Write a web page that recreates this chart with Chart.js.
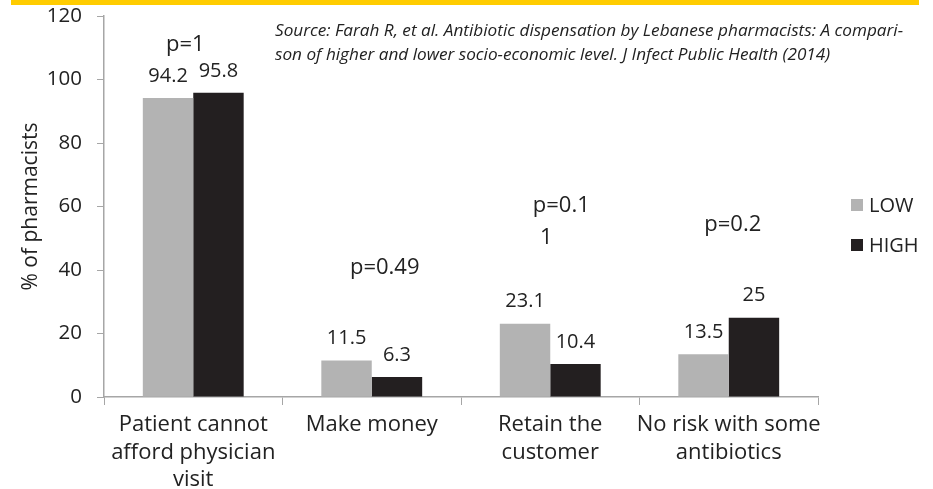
<!DOCTYPE html>
<html>
<head>
<meta charset="utf-8">
<script src="https://cdn.jsdelivr.net/npm/chart.js@4"></script>
<style>
  html, body { margin: 0; padding: 0; background: #fff; }
  #wrap { position: relative; width: 933px; height: 489px; overflow: hidden; }
  #band { position: absolute; left: 11px; top: 0; width: 908px; height: 5px; background: #ffcc00; }
  canvas { position: absolute; left: 0; top: 0; }
</style>
</head>
<body>
<div id="wrap">
  <canvas id="c" width="933" height="489"></canvas>
  <div id="band"></div>
</div>
<script>
const categories = [
  ["Patient cannot", "afford physician", "visit"],
  ["Make money"],
  ["Retain the", "customer"],
  ["No risk with some", "antibiotics"]
];
const seriesNames = ["LOW", "HIGH"];
const lowValues = [94.2, 11.5, 23.1, 13.5];
const highValues = [95.8, 6.3, 10.4, 25];
const pValues = [["p=1"], ["p=0.49"], ["p=0.1", "1"], ["p=0.2"]];
const yTicks = [0, 20, 40, 60, 80, 100, 120];
const sourceLines = [
  "Source: Farah R, et al. Antibiotic dispensation by Lebanese pharmacists: A compari-",
  "son of higher and lower socio-economic level. J Infect Public Health (2014)"
];

const FONT = "'Open Sans', 'DejaVu Sans', sans-serif";
const colors = ["#b3b3b3", "#231f20"];

const extrasPlugin = {
  id: 'extras',
  afterDatasetsDraw(chart) {
    const ctx = chart.ctx;
    const xs = chart.scales.x, ys = chart.scales.y;
    ctx.save();
    // value labels
    ctx.font = "20px " + FONT;
    ctx.fillStyle = "#222";
    ctx.textAlign = "center";
    ctx.textBaseline = "middle";
    chart.data.datasets.forEach((ds, di) => {
      const meta = chart.getDatasetMeta(di);
      meta.data.forEach((bar, i) => {
        ctx.fillText(String(ds.data[i]), bar.x, bar.y - 22);
      });
    });
    // p-values
    ctx.font = "22px " + FONT;
    const pOff = [[-8, 110.9], [13, 40.6], [11, 60.2], [4, 54.2]];
    pValues.forEach((lines, i) => {
      const cx = xs.getPixelForValue(i) + pOff[i][0];
      const cy = ys.getPixelForValue(pOff[i][1]);
      lines.forEach((t, k) => {
        let x = cx;
        if (k > 0) x = cx - 15;
        ctx.fillText(t, x, cy + k * 32);
      });
    });
    // legend
    ctx.font = "20px " + FONT;
    ctx.textAlign = "left";
    seriesNames.forEach((n, i) => {
      const y = 205 + i * 40;
      ctx.fillStyle = colors[i];
      ctx.fillRect(851, y - 6, 12, 12);
      ctx.fillStyle = "#222";
      ctx.fillText(n, 869, y + 1);
    });
    // source
    ctx.font = "italic 15.5px " + FONT;
    ctx.fillStyle = "#222";
    ctx.textAlign = "left";
    sourceLines.forEach((t, k) => {
      const w = ctx.measureText(sourceLines[0]).width;
      ctx.save();
      ctx.translate(275, 32 + k * 24);
      ctx.scale(628 / w, 1);
      ctx.fillText(t, 0, 0);
      ctx.restore();
    });
    ctx.restore();
  }
};

new Chart(document.getElementById('c'), {
  type: 'bar',
  data: {
    labels: categories,
    datasets: [
      { label: seriesNames[0], data: lowValues, backgroundColor: colors[0], categoryPercentage: 0.565, barPercentage: 1.0 },
      { label: seriesNames[1], data: highValues, backgroundColor: colors[1], categoryPercentage: 0.565, barPercentage: 1.0 }
    ]
  },
  options: {
    responsive: false,
    animation: false,
    devicePixelRatio: 1,
    layout: { padding: { left: 0, right: 115, top: 16, bottom: 0 } },
    plugins: { legend: { display: false }, tooltip: { enabled: false } },
    scales: {
      x: {
        afterFit(s) { s.height = 92; s.paddingLeft = 0; s.paddingRight = 0; },
        grid: { display: true, drawOnChartArea: false, drawTicks: true, tickLength: 8, color: "#a6a6a6", offset: true },
        border: { display: true, color: "#a6a6a6", width: 1.5 },
        ticks: { color: "#222", font: { family: FONT, size: 22, lineHeight: 1.25 }, padding: 6, maxRotation: 0, autoSkip: false }
      },
      y: {
        min: 0, max: 120,
        afterFit(s) { s.width = 104; s.paddingTop = 0; s.paddingBottom = 0; },
        afterBuildTicks(s) { s.ticks = yTicks.map(v => ({ value: v })); },
        grid: { display: true, drawOnChartArea: false, drawTicks: true, tickLength: 7, color: "#a6a6a6" },
        border: { display: true, color: "#a6a6a6", width: 1.5 },
        ticks: { color: "#222", font: { family: FONT, size: 20.5 }, padding: 15 },
        title: { display: true, text: "% of pharmacists", color: "#222", font: { family: FONT, size: 21 }, padding: { top: 18, bottom: 0 } }
      }
    }
  },
  plugins: [extrasPlugin]
});
</script>
</body>
</html>
